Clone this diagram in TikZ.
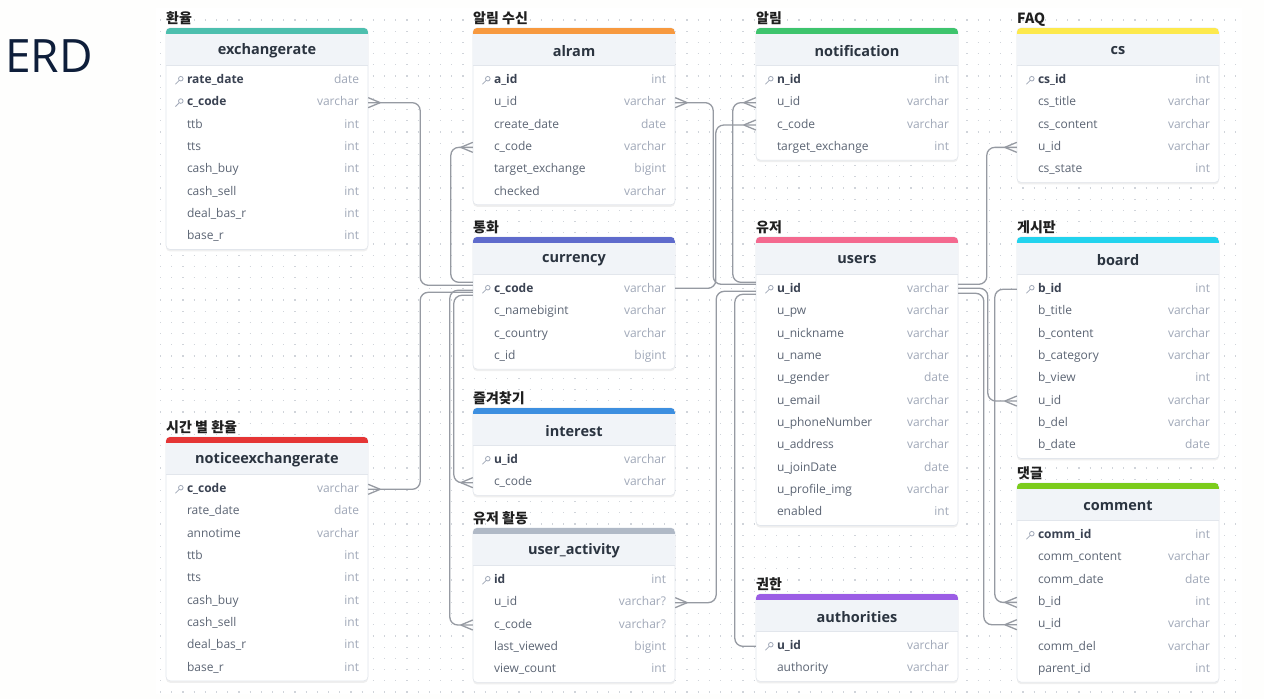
\documentclass[tikz,border=0pt]{standalone}
\usepackage{fontspec}
\setmainfont{Open Sans}
\newfontfamily\krfont{Noto Sans CJK KR}
\usepackage{tikz}
\usetikzlibrary{arrows.meta, positioning, shadows}
\definecolor{pagebg}{RGB}{254, 254, 253}
\definecolor{dotgray}{RGB}{208, 212, 218}
\definecolor{headbg}{RGB}{241, 244, 248}
\definecolor{boxgray}{RGB}{226, 230, 236}
\definecolor{linegray}{RGB}{150, 154, 162}
\definecolor{titleink}{RGB}{43, 52, 64}
\definecolor{keyink}{RGB}{58, 66, 82}
\definecolor{fieldink}{RGB}{92, 101, 116}
\definecolor{typeink}{RGB}{160, 168, 184}
\definecolor{erdink}{RGB}{14, 30, 58}
\definecolor{cteal}{RGB}{77, 191, 174}
\definecolor{corange}{RGB}{247, 153, 63}
\definecolor{cindigo}{RGB}{95, 107, 204}
\definecolor{cblue}{RGB}{61, 143, 224}
\definecolor{cslate}{RGB}{176, 185, 198}
\definecolor{cgreen}{RGB}{62, 196, 109}
\definecolor{cpink}{RGB}{244, 105, 143}
\definecolor{cpurple}{RGB}{155, 93, 229}
\definecolor{cyellow}{RGB}{253, 233, 77}
\definecolor{ccyan}{RGB}{34, 211, 238}
\definecolor{clime}{RGB}{124, 204, 28}
\definecolor{cred}{RGB}{229, 53, 53}

% small key in front of a primary key field
\newcommand{\keyicon}[1]{%
  \draw[keyline] ([xshift=15pt,yshift=1.6pt]#1) circle (2.3pt);
  \draw[keyline] ([xshift=13.4pt,yshift=-0.1pt]#1) -- ([xshift=9.6pt,yshift=-3.9pt]#1);}

% crow's foot on the "many" end, #2 = 1 (east side) or -1 (west side)
\newcommand{\crowfoot}[2]{%
  \draw[rel] ([xshift=#2*12pt]#1) -- ([yshift=5pt]#1)
             ([xshift=#2*12pt]#1) -- ([yshift=-5pt]#1);}

% #1 name, #2 left, #3 top, #4 colour, #5 group label, #6 title, #7 rows, #8 fields
\newcommand{\dbtable}[8]{%
  \pgfmathsetmacro{\tbot}{#3+51+(#7-1)*22.35+14}
  \path[tablebox] (#2,#3) rectangle ({#2+202},\tbot);
  \begin{scope}
    \clip[rounded corners=4pt] (#2,#3) rectangle ({#2+202},\tbot);
    \fill[headbg] (#2,#3) rectangle ({#2+202},{#3+37});
    \fill[#4] (#2,#3) rectangle ({#2+202},{#3+5.5});
    \draw[boxgray, line width=0.6pt] (#2,{#3+37}) -- ({#2+202},{#3+37});
  \end{scope}
  \node[grouplbl] (#1-lbl) at (#2,{#3-5}) {#5};
  \node[titletxt] (#1-title) at ({#2+101},{#3+23}) {#6};
  \foreach \k/\f/\t [count=\i] in {#8} {
    \node[rowslot] (#1-\i) at ({#2+101},{#3+52.3+(\i-1)*22.35}) {};
    \ifnum\k=1
      \node[keytxt] at ([xshift=21pt]#1-\i.west) {\f};
      \keyicon{#1-\i.west}
    \else
      \node[fieldtxt] at ([xshift=21pt]#1-\i.west) {\f};
    \fi
    \node[typetxt] at ([xshift=-9pt]#1-\i.east) {\t};
  }
}

\begin{document}
\begin{tikzpicture}[x=1pt, y=-1pt,
    tablebox/.style={fill=white, draw=boxgray, line width=0.6pt, rounded corners=4pt,
      drop shadow={opacity=0.12, shadow xshift=0pt, shadow yshift=-2pt}},
    grouplbl/.style={anchor=base west, inner sep=0pt, font=\krfont\bfseries\fontsize{14}{16}\selectfont, text=black!88},
    titletxt/.style={inner sep=0pt, font=\bfseries\fontsize{14.5}{16}\selectfont, text=titleink},
    rowslot/.style={minimum width=202pt, minimum height=22pt, inner sep=0pt},
    fieldtxt/.style={anchor=west, inner sep=0pt, text height=8.5pt, text depth=2.5pt,
      font=\fontsize{12}{14}\selectfont, text=fieldink},
    keytxt/.style={fieldtxt, font=\bfseries\fontsize{12}{14}\selectfont, text=keyink},
    typetxt/.style={anchor=east, inner sep=0pt, text height=8.5pt, text depth=2.5pt,
      font=\fontsize{12}{14}\selectfont, text=typeink},
    keyline/.style={draw=typeink, line width=0.8pt},
    rel/.style={draw=linegray, line width=1.3pt, rounded corners=8pt}]

  \fill[pagebg] (0,0) rectangle (1264,699);
  \useasboundingbox (0,0) rectangle (1264,699);
  \fill[white] (156,8) rectangle (1242,694);
  % dotted canvas
  \foreach \gy in {20,31.2,...,692}
    \draw[dotgray, line width=1.2pt, dash pattern=on 1.2pt off 10pt] (160,\gy) -- (1240,\gy);

  \node[anchor=base west, inner sep=0pt, text=erdink, font=\fontsize{46}{50}\selectfont] (erd) at (5,72) {ERD};

  \dbtable{exr}{166}{28}{cteal}{환율}{exchangerate}{8}{%
    1/rate\_date/date, 1/c\_code/varchar, 0/ttb/int, 0/tts/int,
    0/cash\_buy/int, 0/cash\_sell/int, 0/deal\_bas\_r/int, 0/base\_r/int}
  \dbtable{nex}{166}{437}{cred}{시간 별 환율}{noticeexchangerate}{9}{%
    1/c\_code/varchar, 0/rate\_date/date, 0/annotime/varchar, 0/ttb/int, 0/tts/int,
    0/cash\_buy/int, 0/cash\_sell/int, 0/deal\_bas\_r/int, 0/base\_r/int}
  \dbtable{alr}{473}{28}{corange}{알림 수신}{alram}{6}{%
    1/a\_id/int, 0/u\_id/varchar, 0/create\_date/date, 0/c\_code/varchar,
    0/target\_exchange/bigint, 0/checked/varchar}
  \dbtable{cur}{473}{237}{cindigo}{통화}{currency}{4}{%
    1/c\_code/varchar, 0/c\_namebigint/varchar, 0/c\_country/varchar, 0/c\_id/bigint}
  \dbtable{fav}{473}{408}{cblue}{즐겨찾기}{interest}{2}{%
    1/u\_id/varchar, 0/c\_code/varchar}
  \dbtable{uac}{473}{528}{cslate}{유저 활동}{user\_activity}{5}{%
    1/id/int, 0/u\_id/varchar?, 0/c\_code/varchar?, 0/last\_viewed/bigint, 0/view\_count/int}
  \dbtable{noti}{756}{28}{cgreen}{알림}{notification}{4}{%
    1/n\_id/int, 0/u\_id/varchar, 0/c\_code/varchar, 0/target\_exchange/int}
  \dbtable{usr}{756}{237}{cpink}{유저}{users}{11}{%
    1/u\_id/varchar, 0/u\_pw/varchar, 0/u\_nickname/varchar, 0/u\_name/varchar,
    0/u\_gender/date, 0/u\_email/varchar, 0/u\_phoneNumber/varchar, 0/u\_address/varchar,
    0/u\_joinDate/date, 0/u\_profile\_img/varchar, 0/enabled/int}
  \dbtable{auth}{756}{594}{cpurple}{권한}{authorities}{2}{%
    1/u\_id/varchar, 0/authority/varchar}
  \dbtable{cs}{1017}{28}{cyellow}{FAQ}{cs}{5}{%
    1/cs\_id/int, 0/cs\_title/varchar, 0/cs\_content/varchar, 0/u\_id/varchar, 0/cs\_state/int}
  \dbtable{brd}{1017}{237}{ccyan}{게시판}{board}{8}{%
    1/b\_id/int, 0/b\_title/varchar, 0/b\_content/varchar, 0/b\_category/varchar,
    0/b\_view/int, 0/u\_id/varchar, 0/b\_del/varchar, 0/b\_date/date}
  \dbtable{cmt}{1017}{483}{clime}{댓글}{comment}{7}{%
    1/comm\_id/int, 0/comm\_content/varchar, 0/comm\_date/date, 0/b\_id/int,
    0/u\_id/varchar, 0/comm\_del/varchar, 0/parent\_id/int}

  % relations to currency
  \draw[rel] (exr-2.east) -- ++(52,0) |- ([yshift=4pt]cur-1.west);
  \draw[rel] (alr-4.west) -- ++(-22,0) |- ([yshift=7pt]cur-1.west);
  \draw[rel] (nex-1.east) -- ++(52,0) |- ([yshift=-3pt]cur-1.west);
  \draw[rel] (fav-2.west) -- ++(-19,0) |- ([yshift=-6pt]cur-1.west);
  \draw[rel] (uac-3.west) -- ++(-23,0) |- ([yshift=-1pt]cur-1.west);
  \draw[rel] (noti-3.west) -- ++(-40,0) |- ([yshift=1pt]cur-1.east);
  % relations to users
  \draw[rel] (alr-2.east) -- ++(38,0) |- ([yshift=5pt]usr-1.west);
  \draw[rel] (noti-2.west) -- ++(-23,0) |- ([yshift=7pt]usr-1.west);
  \draw[rel] (uac-2.east) -- ++(41,0) |- ([yshift=-2pt]usr-1.west);
  \draw[rel] (auth-1.west) -- ++(-21,0) |- ([yshift=-5pt]usr-1.west);
  \draw[rel] (cs-4.west) -- ++(-30,0) |- ([yshift=5pt]usr-1.east);
  \draw[rel] (brd-6.west) -- ++(-29,0) |- ([yshift=1pt]usr-1.east);
  \draw[rel] (cmt-5.west) -- ++(-33,0) |- ([yshift=-4pt]usr-1.east);
  % comment to board
  \draw[rel] (cmt-4.west) -- ++(-22,0) |- (brd-1.west);

  % many ends
  \crowfoot{exr-2.east}{1}
  \crowfoot{nex-1.east}{1}
  \crowfoot{alr-2.east}{1}
  \crowfoot{uac-2.east}{1}
  \crowfoot{alr-4.west}{-1}
  \crowfoot{fav-2.west}{-1}
  \crowfoot{uac-3.west}{-1}
  \crowfoot{noti-2.west}{-1}
  \crowfoot{noti-3.west}{-1}
  \crowfoot{cs-4.west}{-1}
  \crowfoot{brd-6.west}{-1}
  \crowfoot{cmt-4.west}{-1}
  \crowfoot{cmt-5.west}{-1}
\end{tikzpicture}
\end{document}
